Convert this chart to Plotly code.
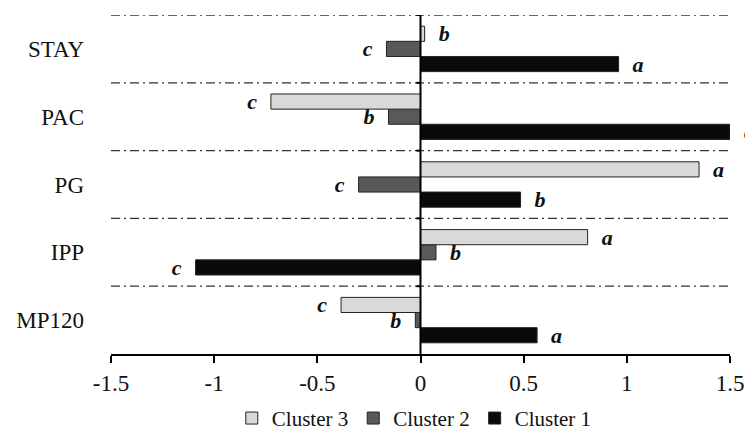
import plotly.graph_objects as go

categories = ["STAY", "PAC", "PG", "IPP", "MP120"]
series_names = ["Cluster 1", "Cluster 2", "Cluster 3"]
cluster1 = [0.96, 1.50, 0.485, -1.09, 0.565]
cluster2 = [-0.165, -0.155, -0.30, 0.075, -0.025]
cluster3 = [0.02, -0.725, 1.35, 0.81, -0.385]
letters1 = ["a", "a", "b", "c", "a"]
letters2 = ["c", "b", "c", "b", "b"]
letters3 = ["b", "c", "a", "a", "c"]
x_ticks = [-1.5, -1, -0.5, 0, 0.5, 1, 1.5]

FONT = "Liberation Serif, Times New Roman, serif"
colors = {"Cluster 1": "#0a0a0a", "Cluster 2": "#595959", "Cluster 3": "#d9d9d9"}

def lab(vals, lets):
    out = []
    for v, l in zip(vals, lets):
        out.append("\u00a0\u00a0" + l if v >= 0 else l + "\u00a0\u00a0")
    return out

fig = go.Figure()
for name, vals, lets in [("Cluster 1", cluster1, letters1),
                         ("Cluster 2", cluster2, letters2),
                         ("Cluster 3", cluster3, letters3)]:
    fig.add_trace(go.Bar(
        y=categories, x=vals, name=name, orientation="h",
        marker=dict(color=colors[name], line=dict(color="#222222", width=1)),
        text=lab(vals, lets), textposition="outside", constraintext="none",
        cliponaxis=False,
        textfont=dict(family=FONT, size=22, color="#111111", style="italic", weight="bold"),
    ))

shapes = []
n = len(categories)
for i in range(n):
    yb = i + 0.5
    shapes.append(dict(type="line", xref="paper", yref="y", x0=0, x1=1, y0=yb, y1=yb,
                       line=dict(color="#333333", width=1.3, dash="9px,4px,2px,4px"), layer="below"))
    shapes.append(dict(type="line", xref="x", yref="y", x0=-0.02, x1=0, y0=yb, y1=yb,
                       line=dict(color="black", width=2)))
shapes.append(dict(type="line", xref="x", yref="paper", x0=0, x1=0, y0=0, y1=1,
                   line=dict(color="black", width=2)))

fig.update_layout(
    width=745, height=428,
    margin=dict(l=111, r=15, t=15, b=74, autoexpand=False),
    paper_bgcolor="white", plot_bgcolor="white",
    barmode="group", bargap=0.33, bargroupgap=0,
    font=dict(family=FONT, size=23, color="#111111"),
    shapes=shapes,
    showlegend=True,
    legend=dict(orientation="h", x=0.49, xanchor="center", y=-0.19, yanchor="middle",
                traceorder="reversed", font=dict(size=21), itemwidth=30,
                tracegroupgap=0, bgcolor="rgba(0,0,0,0)"),
    xaxis=dict(range=[-1.5, 1.5], tickvals=x_ticks, ticktext=[f"{t:g}" for t in x_ticks],
               showgrid=False, zeroline=False, showline=True, linecolor="black", linewidth=2,
               ticks="outside", ticklen=7, tickwidth=2, tickcolor="black",
               tickfont=dict(size=23)),
    yaxis=dict(categoryorder="array", categoryarray=categories[::-1],
               range=[-0.5, n - 0.5], showgrid=False, zeroline=False, showline=False,
               ticks="", ticklabelstandoff=26, tickfont=dict(size=23)),
)

fig.write_html("out.html", config={"displayModeBar": False},
               post_script="document.body.style.margin='0';document.body.style.overflow='hidden';")
